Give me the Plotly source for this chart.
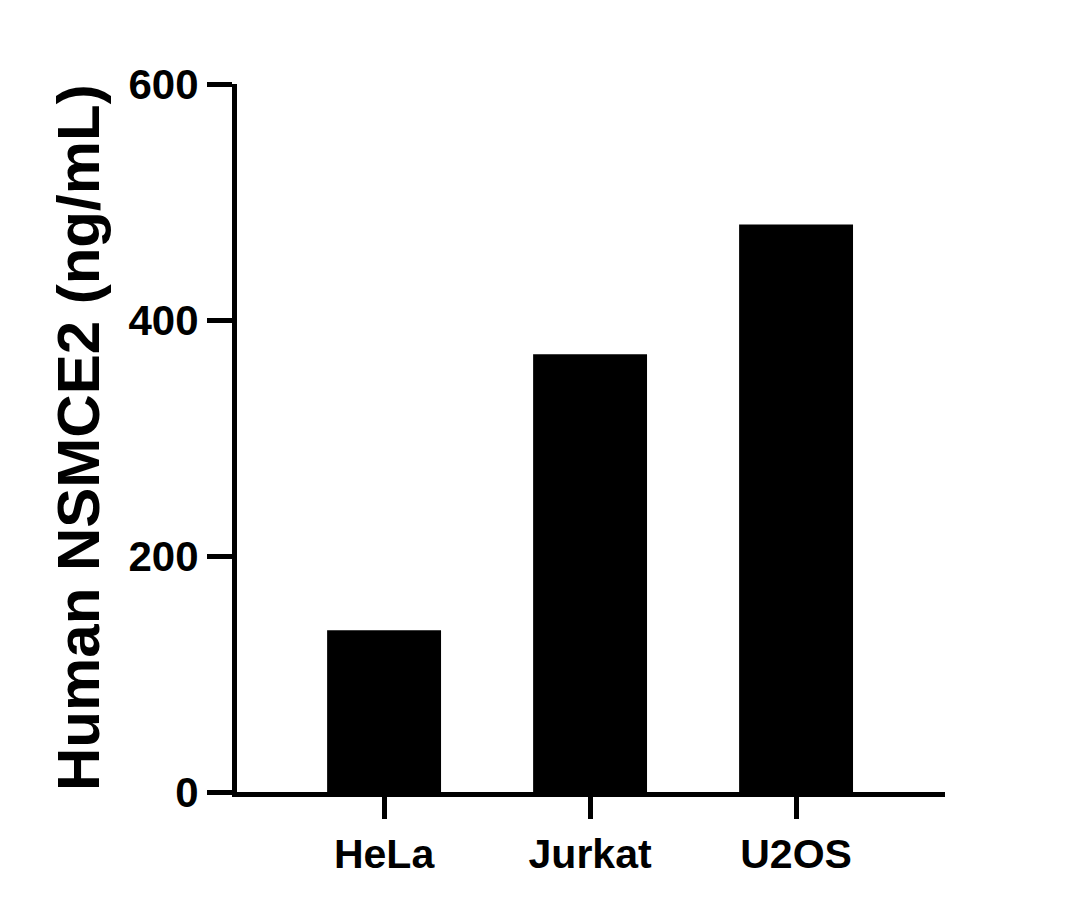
import plotly.graph_objects as go

categories = ["HeLa", "Jurkat", "U2OS"]
values = [137, 371, 481]
y_ticks = [0, 200, 400, 600]
y_title = "Human NSMCE2 (ng/mL)"

fig = go.Figure()
fig.add_trace(go.Bar(
    x=categories,
    y=values,
    marker=dict(color="black", line=dict(width=0)),
    width=0.553,
))

font_family = "Liberation Sans, Arial, sans-serif"

fig.update_layout(
    width=1078,
    height=909,
    margin=dict(l=229, r=141, t=76, b=125),
    paper_bgcolor="white",
    plot_bgcolor="white",
    showlegend=False,
    font=dict(family=font_family, color="black"),
    annotations=[dict(
        text=y_title,
        xref="paper", yref="paper",
        x=0, y=0.5,
        xanchor="center", yanchor="middle",
        xshift=-159,
        textangle=-90,
        showarrow=False,
        font=dict(family=font_family, size=60, color="black", weight="bold"),
    )],
)

fig.update_xaxes(
    range=[-0.714, 2.723],
    showline=True, linecolor="black", linewidth=5,
    ticks="outside", ticklen=22, tickwidth=5, tickcolor="black",
    tickfont=dict(family=font_family, size=41, color="black", weight="bold"),
    showgrid=False, zeroline=False,
)
fig.update_yaxes(
    range=[0, 600],
    tickvals=y_ticks,
    showline=True, linecolor="black", linewidth=5,
    ticks="outside", ticklen=25, tickwidth=5, tickcolor="black",
    tickfont=dict(family=font_family, size=42, color="black", weight="bold"),
    showgrid=False, zeroline=False,
)

fig.write_html("out.html")
